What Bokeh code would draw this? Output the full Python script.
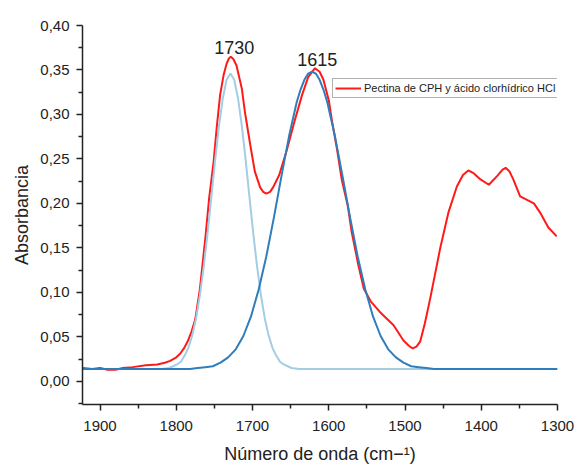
from bokeh.plotting import figure
from bokeh.models import (Range1d, FixedTicker, CustomJSTickFormatter, Legend,
                          LegendItem, Label)
from bokeh.embed import file_html
from bokeh.resources import INLINE

# ---- data ----
series_name = "Pectina de CPH y ácido clorhídrico HCl"

red_x = [1923, 1910, 1900, 1890, 1880, 1870, 1857, 1840, 1825, 1815, 1808, 1800,
         1795, 1790, 1785, 1780, 1775, 1769, 1762, 1757, 1751, 1747, 1742.5, 1738,
         1734, 1731, 1728.5, 1725, 1721, 1714, 1710, 1703, 1697, 1690, 1686, 1682,
         1677, 1673, 1665, 1655,
         1645, 1635, 1627, 1618, 1612, 1607, 1600, 1596, 1589, 1583, 1575, 1570,
         1561, 1554, 1545, 1533, 1515, 1502, 1495, 1490, 1485, 1480, 1474, 1467,
         1454, 1443, 1432, 1424, 1417, 1410, 1401, 1390, 1379, 1372, 1368, 1363,
         1358, 1349, 1340, 1331, 1323, 1312, 1301]
red_y = [0.015, 0.014, 0.015, 0.013, 0.013, 0.015, 0.016, 0.018, 0.019, 0.021, 0.023, 0.027,
         0.031, 0.037, 0.045, 0.056, 0.070, 0.104, 0.160, 0.205, 0.247, 0.285, 0.322, 0.344,
         0.357, 0.363, 0.365, 0.362, 0.355, 0.329, 0.303, 0.266, 0.236, 0.218, 0.213, 0.211,
         0.213, 0.218, 0.232, 0.260,
         0.292, 0.322, 0.342, 0.352, 0.348, 0.339, 0.316, 0.294, 0.260, 0.227, 0.197, 0.168,
         0.130, 0.104, 0.090, 0.078, 0.063, 0.046, 0.040, 0.037, 0.039, 0.045, 0.065, 0.093,
         0.149, 0.190, 0.219, 0.232, 0.237, 0.234, 0.227, 0.221, 0.231, 0.238, 0.240, 0.236,
         0.227, 0.208, 0.204, 0.200, 0.190, 0.173, 0.163]

peak1_x = [1923, 1819, 1809, 1799, 1794, 1789, 1784, 1779, 1774, 1769, 1764, 1759,
           1754, 1749, 1744, 1739, 1734, 1729, 1724, 1719, 1714, 1709, 1704, 1699,
           1694, 1689, 1684, 1679, 1674, 1669, 1664, 1659, 1649, 1639, 1300]
peak1_y = [0.014, 0.014, 0.015, 0.019, 0.022, 0.029, 0.038, 0.052, 0.071, 0.097, 0.129, 0.166,
           0.207, 0.249, 0.287, 0.318, 0.339, 0.346, 0.339, 0.318, 0.287, 0.249, 0.207, 0.166,
           0.129, 0.097, 0.071, 0.052, 0.038, 0.029, 0.022, 0.019, 0.015, 0.014, 0.014]

peak2_x = [1923, 1850, 1782, 1772, 1762, 1752, 1742, 1732, 1722, 1712, 1702, 1692,
           1682, 1672, 1662, 1652, 1642, 1637, 1632, 1627, 1622, 1617, 1612, 1607,
           1602, 1592, 1582, 1572, 1562, 1552, 1542, 1532, 1522, 1512, 1502, 1492,
           1482, 1472, 1462, 1300]
peak2_y = [0.014, 0.014, 0.014, 0.015, 0.016, 0.017, 0.021, 0.027, 0.036, 0.051, 0.073, 0.103,
           0.140, 0.184, 0.231, 0.276, 0.314, 0.328, 0.339, 0.346, 0.348, 0.346, 0.339, 0.328,
           0.314, 0.276, 0.231, 0.184, 0.140, 0.103, 0.073, 0.051, 0.036, 0.027, 0.021, 0.017,
           0.016, 0.015, 0.014, 0.014]

peak_labels = ["1730", "1615"]
peak_label_x = [1724, 1615]
peak_label_y = [0.375, 0.362]

x_ticks = [1900, 1800, 1700, 1600, 1500, 1400, 1300]
x_minor = [1850, 1750, 1650, 1550, 1450, 1350]
y_ticks = [0.0, 0.05, 0.10, 0.15, 0.20, 0.25, 0.30, 0.35, 0.40]
y_minor = [-0.025, 0.025, 0.075, 0.125, 0.175, 0.225, 0.275, 0.325, 0.375]

FONT = "Liberation Sans"

p = figure(width=577, height=466, output_backend="svg", toolbar_location=None,
           x_range=Range1d(1923, 1300), y_range=Range1d(-0.026, 0.40),
           min_border_left=82, min_border_right=20, min_border_top=25,
           min_border_bottom=60)
p.outline_line_color = None
p.grid.visible = False

r_red = p.line(red_x, red_y, line_color="#ff1a1a", line_width=2)
p.line(peak1_x, peak1_y, line_color="#a3cde4", line_width=2)
p.line(peak2_x, peak2_y, line_color="#2f7dba", line_width=2)

for ax in (p.xaxis[0], p.yaxis[0]):
    ax.axis_line_color = "#222222"
    ax.axis_line_width = 1.5
    ax.major_tick_line_color = "#222222"
    ax.major_tick_line_width = 1.5
    ax.minor_tick_line_color = "#222222"
    ax.minor_tick_line_width = 1.5
    ax.major_tick_out = 6
    ax.major_tick_in = 0
    ax.minor_tick_out = 4
    ax.minor_tick_in = 0
    ax.major_label_text_font = FONT
    ax.major_label_text_font_size = "15px"
    ax.major_label_text_color = "#222222"
    ax.axis_label_text_font = FONT
    ax.axis_label_text_font_size = "18px"
    ax.axis_label_text_font_style = "normal"
    ax.axis_label_text_color = "#222222"

p.xaxis.ticker = FixedTicker(ticks=x_ticks, minor_ticks=x_minor)
p.yaxis.ticker = FixedTicker(ticks=y_ticks, minor_ticks=y_minor)
p.yaxis.formatter = CustomJSTickFormatter(code="return tick.toFixed(2).replace('.', ',');")
p.xaxis.axis_label = "Número de onda (cm−¹)"
p.yaxis.axis_label = "Absorbancia"
p.xaxis.major_label_standoff = 10
p.yaxis.major_label_standoff = 7
p.xaxis.axis_label_standoff = 10
p.yaxis.axis_label_standoff = 5

for t, lx, ly in zip(peak_labels, peak_label_x, peak_label_y):
    p.add_layout(Label(x=lx, y=ly, text=t, text_align="center", text_baseline="middle",
                       text_font=FONT, text_font_size="18px", text_color="#222222"))

legend = Legend(items=[LegendItem(label=series_name, renderers=[r_red])],
                location=(250, 306))
legend.label_text_font = FONT
legend.label_text_font_size = "11px"
legend.label_text_color = "#222222"
legend.glyph_width = 26
legend.glyph_height = 14
legend.label_height = 14
legend.label_standoff = 3
legend.padding = 2
legend.margin = 0
legend.spacing = 0
legend.border_line_color = "#666666"
legend.border_line_width = 1.5
legend.background_fill_color = "white"
legend.background_fill_alpha = 1
p.add_layout(legend)

open("out.html", "w").write(file_html(p, INLINE))
